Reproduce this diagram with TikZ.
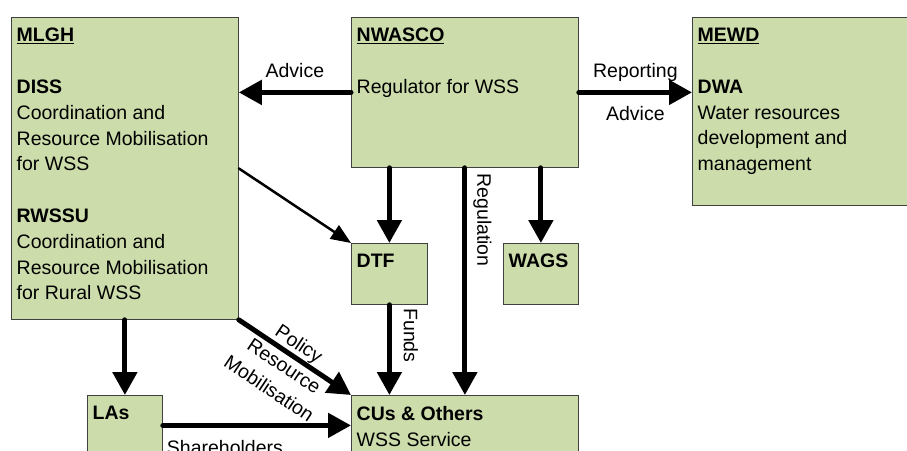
\documentclass[tikz,border=0pt]{standalone}
\usepackage{fontspec}
\setmainfont{Liberation Sans}
\usetikzlibrary{arrows.meta}
\definecolor{boxgreen}{RGB}{204,220,170}

\begin{document}
\begin{tikzpicture}[x=1pt,y=-1pt,font=\fontsize{19.5}{25.8}\selectfont,
  box/.style={draw=black!75,line width=0.8pt,fill=boxgreen,anchor=north west,inner sep=0pt},
  boxtext/.style={anchor=north west,align=left,inner xsep=5.5pt,inner ysep=11pt},
  flow/.style={line width=5pt,line cap=round,-{Triangle[length=23pt,width=24pt]}},
  thinflow/.style={line width=2.5pt,line cap=round,-{Triangle[length=20pt,width=16pt]}},
  lbl/.style={text depth=0pt,inner sep=#1},lbl/.default=12pt]
\clip (0,0) rectangle (907,450);
\node[box,minimum width=227pt,minimum height=302pt] (mlgh) at (11,17) {};
\node[box,minimum width=227pt,minimum height=150pt] (nwasco) at (351,17) {};
\node[box,minimum width=227pt,minimum height=188pt] (mewd) at (692,17) {};
\node[box,minimum width=76pt,minimum height=61pt] (dtf) at (351,243) {};
\node[box,minimum width=75pt,minimum height=61pt] (wags) at (503,243) {};
\node[box,minimum width=75pt,minimum height=60pt] (las) at (87,395) {};
\node[box,minimum width=227pt,minimum height=60pt] (cus) at (351,395) {};

\node[boxtext] (mlghtext) at (mlgh.north west) {\underline{\textbf{MLGH}}\\[25.8pt]\textbf{DISS}\\Coordination and\\Resource Mobilisation\\for WSS\\[25.8pt]\textbf{RWSSU}\\Coordination and\\Resource Mobilisation\\for Rural WSS};
\node[boxtext] (nwascotext) at (nwasco.north west) {\underline{\textbf{NWASCO}}\\[25.8pt]Regulator for WSS};
\node[boxtext] (mewdtext) at (mewd.north west) {\underline{\textbf{MEWD}}\\[25.8pt]\textbf{DWA}\\Water resources\\development and\\management};
\node[boxtext] (dtftext) at (dtf.north west) {\textbf{DTF}};
\node[boxtext] (wagstext) at (wags.north west) {\textbf{WAGS}};
\node[boxtext] (lastext) at (las.north west) {\textbf{LAs}};
\node[boxtext] (custext) at (cus.north west) {\textbf{CUs \& Others}\\WSS Service};

\draw[flow] (nwasco.west) -- (mlgh.east |- nwasco.west) node[midway,anchor=south,lbl] (advicea) {Advice};
\draw[flow] (nwasco.east) -- (mewd.west |- nwasco.east) node[midway,anchor=south,lbl] (reporting) {Reporting} node[midway,anchor=north,lbl=11pt] (adviceb) {Advice};
\draw[thinflow] (mlgh.east) -- (dtf.north west);
\draw[flow] (dtf.north |- nwasco.south) -- (dtf.north);
\draw[flow] (nwasco.south) -- (cus.north) node[pos=.23,rotate=-90,anchor=south,lbl=10pt] (regulation) {Regulation};
\draw[flow] (wags.north |- nwasco.south) -- (wags.north);
\draw[flow] (dtf.south) -- (dtf.south |- cus.north) node[pos=.34,rotate=-90,anchor=south,lbl] (funds) {Funds};
\draw[flow] (las.north |- mlgh.south) -- (las.north);
\draw[flow] (mlgh.south east) -- (cus.north west) node[pos=.47,sloped,yshift=-13pt,align=center,inner sep=0pt,font=\fontsize{19.5}{27}\selectfont] (policy) {Policy\\Resource\\Mobilisation};
\draw[flow] (las.east) -- (cus.west) node[pos=.33,anchor=north,lbl] (shareholders) {Shareholders};
\end{tikzpicture}
\end{document}
